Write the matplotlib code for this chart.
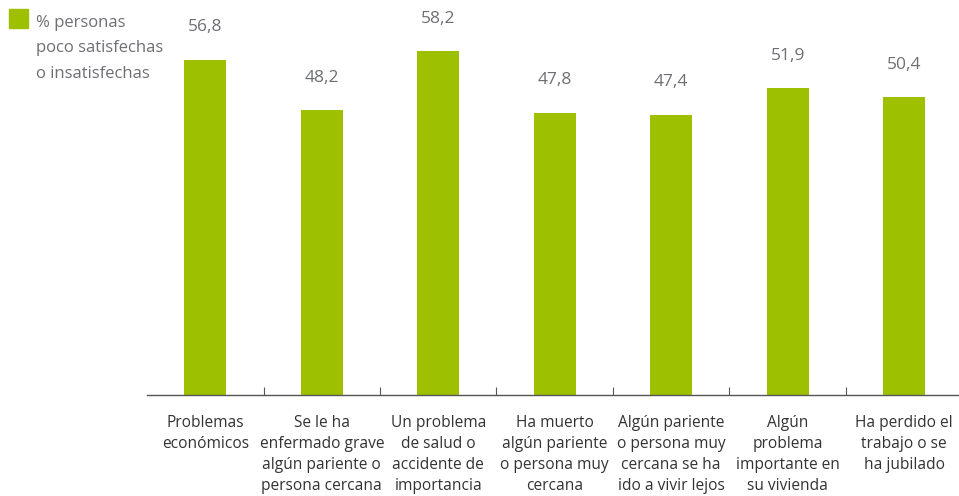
import matplotlib.pyplot as plt
import numpy as np

plt.rcParams['font.family'] = ['Open Sans', 'DejaVu Sans']

categorias = ['Problemas\neconómicos',
              'Se le ha\nenfermado grave\nalgún pariente o\npersona cercana',
              'Un problema\nde salud o\naccidente de\nimportancia',
              'Ha muerto\nalgún pariente\no persona muy\ncercana',
              'Algún pariente\no persona muy\ncercana se ha\nido a vivir lejos',
              'Algún\nproblema\nimportante en\nsu vivienda',
              'Ha perdido el\ntrabajo o se\nha jubilado']
valores = [56.8, 48.2, 58.2, 47.8, 47.4, 51.9, 50.4]
leyenda = '% personas\npoco satisfechas\no insatisfechas'

verde = '#9dc100'
gris = '#6d6f73'
oscuro = '#333333'

fig = plt.figure(figsize=(9.59, 4.96), dpi=100)
ax = fig.add_axes([147 / 959, 101.5 / 496, 815.5 / 959, 394.5 / 496])

x = np.arange(len(valores))
ax.bar(x, valores, width=0.36, color=verde)
for xi, v in zip(x, valores):
    ax.annotate(f'{v:.1f}'.replace('.', ','), (xi, v), xytext=(0, 23.5),
                textcoords='offset points', ha='center', va='center',
                fontsize=12.5, color=gris)

ax.set_xlim(-0.5, len(valores) - 0.5)
ax.set_ylim(0, 66.9)

# marcas entre categorias, etiquetas en el centro
ax.set_xticks(x[:-1] + 0.5)
ax.set_xticklabels([])
ax.tick_params(axis='x', which='major', direction='in', length=6, width=0.8, color='#555555')
ax.set_xticks(x, minor=True)
ax.set_xticklabels(categorias, minor=True, fontsize=11.2, color=oscuro, linespacing=1.42)
ax.tick_params(axis='x', which='minor', length=0, pad=15)
ax.set_yticks([])

for s in ['top', 'right', 'left']:
    ax.spines[s].set_visible(False)
ax.spines['bottom'].set_color('#555555')
ax.spines['bottom'].set_linewidth(1)

# leyenda
fig.patches.append(plt.Rectangle((9 / 959, 1 - 28 / 496), 19 / 959, 19 / 496,
                                 transform=fig.transFigure, color=verde))
fig.text(36 / 959, 1 - 15 / 496, leyenda, ha='left', va='top', fontsize=12,
         color=gris, linespacing=1.78)

fig.savefig('out.png', dpi=100)
